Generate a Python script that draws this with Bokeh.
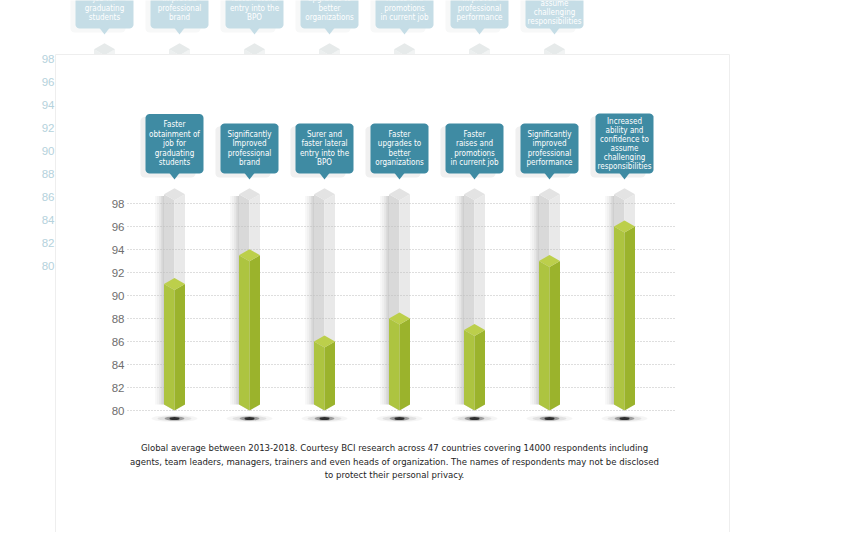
import numpy as np
from bokeh.plotting import figure
from bokeh.models import Range1d
from bokeh.core.properties import value
from bokeh.embed import file_html
from bokeh.resources import INLINE

# ---------------- data ----------------
categories = [
    "Faster\nobtainment of\njob for\ngraduating\nstudents",
    "Significantly\nImproved\nprofessional\nbrand",
    "Surer and\nfaster lateral\nentry into the\nBPO",
    "Faster\nupgrades to\nbetter\norganizations",
    "Faster\nraises and\npromotions\nin current job",
    "Significantly\nimproved\nprofessional\nperformance",
    "Increased\nability and\nconfidence to\nassume\nchallenging\nresponsibilities",
]
scores = [91, 93.5, 86, 88, 87, 93, 96]
track_max = 98.8
tick_values = [80, 82, 84, 86, 88, 90, 92, 94, 96, 98]
tick_labels = ["80", "82", "84", "86", "88", "90", "92", "94", "96", "98"]
caption_lines = [
    "Global average between 2013-2018. Courtesy BCI research across 47 countries covering 14000 respondents including",
    "agents, team leaders, managers, trainers and even heads of organization. The names of respondents may not be disclosed",
    "to protect their personal privacy.",
]

# ---------------- layout helpers (screen px -> data) ----------------
CAT0 = 174.0      # screen x of first category
PX_CAT = 75.0     # px per category
Y80 = 410.0       # screen y of value 80
PX_U = 11.5       # px per value unit
W, H = 834, 532

def xd(sx):
    return (sx - CAT0) / PX_CAT

def yd(sy):
    return 80 + (Y80 - sy) / PX_U

def dxu(px):
    return px / PX_CAT

def dyu(px):
    return px / PX_U

NARROW = value("DejaVu Sans Condensed, Liberation Sans, sans-serif")
REG = value("Liberation Sans")

p = figure(width=W, height=H, output_backend="svg", toolbar_location=None,
           x_range=Range1d(xd(0), xd(W)), y_range=Range1d(yd(H), yd(0)),
           x_axis_location=None, y_axis_location=None, min_border=0)
p.grid.visible = False
p.outline_line_color = None
p.background_fill_color = "white"
p.border_fill_color = "white"


def rounded(x0, x1, y0, y1, r=4, n=6):
    pts = []
    corners = [(x1 - r, y0 + r, -90, 0), (x1 - r, y1 - r, 0, 90),
               (x0 + r, y1 - r, 90, 180), (x0 + r, y0 + r, 180, 270)]
    for cx, cy, a0, a1 in corners:
        for a in np.linspace(np.radians(a0), np.radians(a1), n):
            pts.append((cx + r * np.cos(a), cy + r * np.sin(a)))
    return [xd(a) for a, b in pts], [yd(b) for a, b in pts]


def prism(cx, top, w, d, base):
    left = ([cx - w, cx, cx, cx - w], [top, top - d, base, base + d])
    right = ([cx, cx + w, cx + w, cx], [top - d, top, base + d, base])
    cap = ([cx - w, cx, cx + w, cx], [top, top - d, top, top + d])
    return left, right, cap


def draw(ox_px, oy_px, pal, full=True):
    ox = dxu(ox_px)
    oy = -dyu(oy_px)
    w = dxu(10.5)
    d = dyu(6)
    n = len(scores)
    p.text(x=[xd(124 + ox_px)] * len(tick_values), y=[v + oy for v in tick_values],
           text=tick_labels, text_align="right", text_baseline="middle",
           text_font=REG, text_font_size="11.5px", text_color=pal["tick"])
    if full:
        shades = ["#f8f8f8", "#f1f1f1", "#e8e8e8", "#dcdcdc", "#cfcfcf"]
        for k, c in enumerate(shades):
            xs0 = [i + ox - w - dxu(9 - 1.8 * k) for i in range(n)]
            xs1 = [i + ox - w - dxu(7.2 - 1.8 * k) for i in range(n)]
            p.quad(left=xs0, right=xs1, bottom=[80 + d + oy] * n,
                   top=[track_max - d * 0.3 + oy] * n, fill_color=c, line_color=None)
        for ww, hh, a in [(46, 7, 0.04), (34, 5, 0.08), (20, 4, 0.3), (10, 3, 0.7)]:
            p.ellipse(x=[i + ox for i in range(n)], y=[yd(418) + oy] * n,
                      width=dxu(ww), height=dyu(hh), fill_color="black",
                      fill_alpha=a, line_color=None)
    for i in range(n):
        l, r, c = prism(i + ox, track_max + oy, w, d, 80 + oy)
        p.patch(*l, fill_color=pal["gl"], line_color=None)
        p.patch(*r, fill_color=pal["gr"], line_color=None)
        p.patch(*c, fill_color=pal["gc"], line_color=None)
    if full:
        p.segment(x0=[xd(127)] * len(tick_values), x1=[xd(676)] * len(tick_values),
                  y0=tick_values, y1=tick_values, line_color="#bdbdbd",
                  line_dash="1 2", line_width=1)
        for i, v in enumerate(scores):
            l, r, c = prism(i + ox, v + oy, w, d, 80 + oy)
            p.patch(*l, fill_color="#adc440", line_color=None)
            p.patch(*r, fill_color="#9bb32c", line_color=None)
            p.patch(*c, fill_color="#bccf4b", line_color=None)
    for i, lab in enumerate(categories):
        lines = lab.split("\n")
        nl = len(lines)
        cx = CAT0 + PX_CAT * i + ox_px
        bottom = 173 + oy_px
        h = min(9.5 * nl + 12, 60)
        top = bottom - h
        sp = min(9.5, (h - 6) / nl)
        sx, sy = rounded(cx - 29 - 5, cx + 29 - 8, top + 3, bottom + 4)
        p.patch(sx, sy, fill_color=pal["bs"], line_color=None)
        bx, by = rounded(cx - 29, cx + 29, top, bottom)
        p.patch(bx, by, fill_color=pal["box"], line_color=None)
        p.patch([xd(cx - 5), xd(cx + 5), xd(cx)], [yd(bottom - 0.5)] * 2 + [yd(bottom + 6)],
                fill_color=pal["box"], line_color=None)
        mid = bottom - h / 2
        ys = [yd(mid + (k - (nl - 1) / 2) * sp) for k in range(nl)]
        p.text(x=[xd(cx)] * nl, y=ys, text=lines, text_align="center",
               text_baseline="middle", text_font=NARROW, text_font_size="8px",
               text_color=pal["btxt"])


ghost = dict(tick="#b5d2dc", gl="#ecefef", gr="#f2f4f4", gc="#e6eaea",
             bs="#f7f8f8", box="#c5dde6", btxt="#ffffff")
main = dict(tick="#6e6e6e", gl="#d9d9d9", gr="#e9e9e9", gc="#e3e3e3",
            bs="#f0f0f0", box="#3f8ba3", btxt="#ffffff")

draw(-70, -145, ghost, full=False)

p.quad(left=[xd(55)], right=[xd(729)], bottom=[yd(540)], top=[yd(54)],
       fill_color="white", line_color="#eeeeee", line_width=1)

draw(0, 0, main, full=True)

p.text(x=[xd(394)] * 3, y=[yd(447), yd(461), yd(474)], text=caption_lines,
       text_align="center", text_baseline="middle", text_font=NARROW,
       text_font_size="9.5px", text_color="#1e1e1e")

open("out.html", "w").write(file_html(p, INLINE))
